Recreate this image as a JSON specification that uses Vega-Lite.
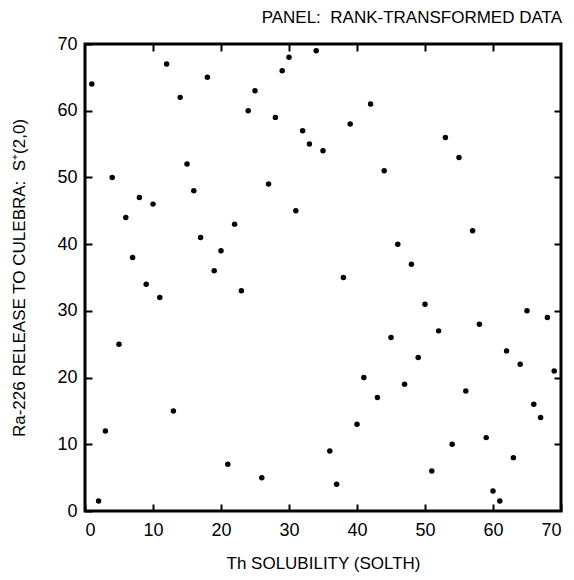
{
  "$schema": "https://vega.github.io/schema/vega-lite/v6.json",
  "autosize": "none",
  "width": 476,
  "height": 467,
  "padding": {"left": 85, "top": 44, "right": 13, "bottom": 69},
  "background": "white",
  "title": {"text": "PANEL:\u00a0 RANK-TRANSFORMED DATA", "anchor": "end", "font": "Liberation Sans", "fontSize": 17, "fontWeight": "normal", "color": "black", "offset": 8},
  "config": {"view": {"stroke": "black", "strokeWidth": 3}, "axis": {"grid": false, "domain": false, "labelFont": "Liberation Sans", "titleFont": "Liberation Sans", "labelFontSize": 18, "titleFontSize": 17, "titleFontWeight": "normal", "labelColor": "black", "titleColor": "black", "tickColor": "black", "tickWidth": 2, "tickSize": -7}},
  "data": {"values": [
    {"x":1,"y":64},{"x":2,"y":1.5},{"x":3,"y":12},{"x":4,"y":50},{"x":5,"y":25},{"x":6,"y":44},{"x":7,"y":38},{"x":8,"y":47},{"x":9,"y":34},{"x":10,"y":46},
    {"x":11,"y":32},{"x":12,"y":67},{"x":13,"y":15},{"x":14,"y":62},{"x":15,"y":52},{"x":16,"y":48},{"x":17,"y":41},{"x":18,"y":65},{"x":19,"y":36},{"x":20,"y":39},
    {"x":21,"y":7},{"x":22,"y":43},{"x":23,"y":33},{"x":24,"y":60},{"x":25,"y":63},{"x":26,"y":5},{"x":27,"y":49},{"x":28,"y":59},{"x":29,"y":66},{"x":30,"y":68},
    {"x":31,"y":45},{"x":32,"y":57},{"x":33,"y":55},{"x":34,"y":69},{"x":35,"y":54},{"x":36,"y":9},{"x":37,"y":4},{"x":38,"y":35},{"x":39,"y":58},{"x":40,"y":13},
    {"x":41,"y":20},{"x":42,"y":61},{"x":43,"y":17},{"x":44,"y":51},{"x":45,"y":26},{"x":46,"y":40},{"x":47,"y":19},{"x":48,"y":37},{"x":49,"y":23},{"x":50,"y":31},
    {"x":51,"y":6},{"x":52,"y":27},{"x":53,"y":56},{"x":54,"y":10},{"x":55,"y":53},{"x":56,"y":18},{"x":57,"y":42},{"x":58,"y":28},{"x":59,"y":11},{"x":60,"y":3},
    {"x":61,"y":1.5},{"x":62,"y":24},{"x":63,"y":8},{"x":64,"y":22},{"x":65,"y":30},{"x":66,"y":16},{"x":67,"y":14},{"x":68,"y":29},{"x":69,"y":21}
  ]},
  "layer": [
    {
      "mark": {"type": "circle", "size": 30, "color": "black", "opacity": 1},
      "encoding": {
        "x": {"field": "x", "type": "quantitative", "scale": {"domain": [0, 70], "nice": false, "zero": false}, "axis": {"values": [0,10,20,30,40,50,60,70], "title": "Th SOLUBILITY (SOLTH)", "titlePadding": 16, "labelPadding": 17}},
        "y": {"field": "y", "type": "quantitative", "scale": {"domain": [0, 70], "nice": false, "zero": false}, "axis": {"values": [0,10,20,30,40,50,60,70], "title": "Ra-226 RELEASE TO CULEBRA:\u00a0 S⁺(2,0)", "titlePadding": 28, "labelPadding": 15}}
      }
    },
    {
      "mark": {"type": "circle", "size": 0, "opacity": 0},
      "encoding": {
        "x": {"field": "x", "type": "quantitative", "axis": {"orient": "top", "values": [10,20,30,40,50,60], "labels": false, "title": null}},
        "y": {"field": "y", "type": "quantitative", "axis": {"orient": "right", "values": [10,20,30,40,50,60], "labels": false, "title": null}}
      }
    }
  ],
  "resolve": {"axis": {"x": "independent", "y": "independent"}}
}
